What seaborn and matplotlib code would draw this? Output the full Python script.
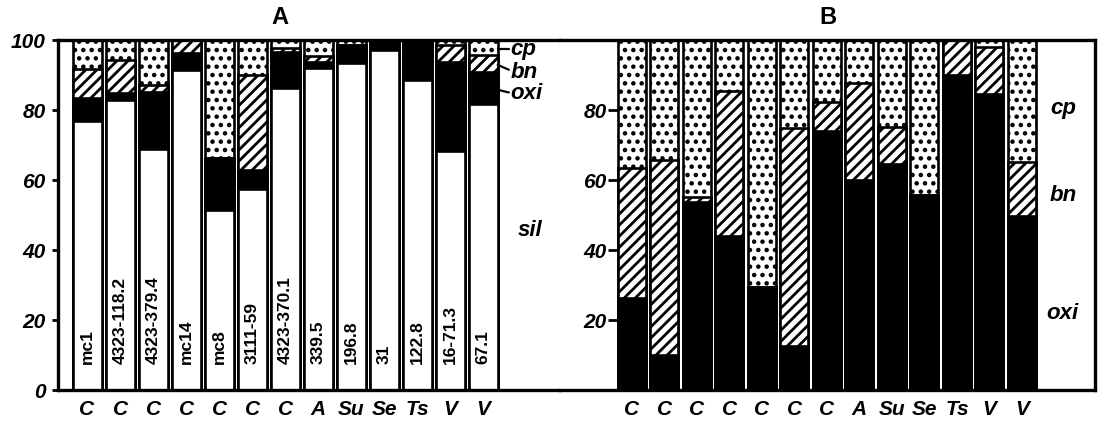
import numpy as np
import pandas as pd
import matplotlib
matplotlib.use("Agg")
import matplotlib.pyplot as plt
from matplotlib import font_manager
import seaborn as sns

# ---------------- data ----------------
groups = ["C", "C", "C", "C", "C", "C", "C", "A", "Su", "Se", "Ts", "V", "V"]
samples = ["mc1", "4323-118.2", "4323-379.4", "mc14", "mc8", "3111-59",
           "4323-370.1", "339.5", "196.8", "31", "122.8", "16-71.3", "67.1"]

# Panel A: percentages of sil, oxi, bn, cp
a_sil = [77.0, 82.8, 68.8, 91.4, 51.5, 57.3, 86.2, 92.0, 93.4, 97.1, 88.5, 68.3, 81.7]
a_oxi = [6.4, 2.1, 16.3, 4.8, 14.7, 5.5, 10.4, 1.7, 5.2, 2.4, 11.5, 25.4, 9.1]
a_bn = [8.3, 9.4, 2.0, 3.8, 0.0, 27.2, 1.1, 1.7, 0.0, 0.0, 0.0, 4.9, 4.9]
a_cp = [8.3, 5.7, 12.9, 0.0, 33.8, 10.0, 2.3, 4.6, 1.4, 0.5, 0.0, 1.4, 4.3]

# Panel B: percentages of oxi, bn, cp (non-silicate part)
b_oxi = [26.4, 10.0, 53.8, 44.1, 29.3, 12.6, 73.9, 60.0, 64.7, 55.8, 90.1, 84.7, 49.7]
b_bn = [37.1, 55.8, 1.4, 41.4, 0.0, 62.4, 8.4, 27.7, 10.4, 0.0, 9.9, 13.4, 15.5]
b_cp = [36.5, 34.2, 44.8, 14.5, 70.7, 25.0, 17.7, 12.3, 24.9, 44.2, 0.0, 1.9, 34.8]

a_ticks = [0, 20, 40, 60, 80, 100]
b_ticks = [20, 40, 60, 80]

# ---------------- style ----------------
sns.set_style("white")
names = {f.name for f in font_manager.fontManager.ttflist}
narrow = "Liberation Sans Narrow" if "Liberation Sans Narrow" in names else "Liberation Sans"
plt.rcParams["font.family"] = ["Liberation Sans", "DejaVu Sans"]
plt.rcParams["hatch.linewidth"] = 2.0
plt.rcParams["hatch.color"] = "black"
for k in ("text.color", "axes.labelcolor", "xtick.color", "ytick.color", "axes.edgecolor"):
    plt.rcParams[k] = "black"

fig = plt.figure(figsize=(11.03, 4.25), dpi=100)
axA = fig.add_axes([58 / 1103, 35 / 425, (560 - 58) / 1103, 350 / 425])
axB = fig.add_axes([560 / 1103, 35 / 425, (1095 - 560) / 1103, 350 / 425])

styles = {
    "sil": dict(color="white", hatch=None),
    "oxi": dict(color="black", hatch=None),
    "bn": dict(color="white", hatch="///"),
    "cp": dict(color="white", hatch=".."),
}


def stacked(ax, layers, keys, width):
    cum = np.cumsum(np.array(layers, dtype=float), axis=0)
    for k in reversed(range(len(layers))):
        df = pd.DataFrame({"sample": samples, "top": cum[k]})
        st = styles[keys[k]]
        kw = dict(data=df, x="sample", y="top", order=samples, ax=ax,
                  width=width, color=st["color"], edgecolor="black",
                  linewidth=1.9, saturation=1, errorbar=None)
        if st["hatch"]:
            kw["hatch"] = st["hatch"]
        sns.barplot(**kw)


stacked(axA, [a_sil, a_oxi, a_bn, a_cp], ["sil", "oxi", "bn", "cp"], 0.88)
stacked(axB, [b_oxi, b_bn, b_cp], ["oxi", "bn", "cp"], 0.86)

tick_font = dict(family=[narrow, "DejaVu Sans"], style="italic", weight="bold",
                 color="black")

for ax in (axA, axB):
    ax.set_ylim(0, 100)
    ax.set_xlabel("")
    ax.set_ylabel("")
    ax.set_xticks(range(len(groups)))
    ax.set_xticklabels(groups, fontsize=15, **tick_font)
    ax.tick_params(axis="x", length=0, pad=7)
    for s in ax.spines.values():
        s.set_linewidth(2.4)
        s.set_color("black")

# Panel A axes
axA.set_xlim(-0.88, 14.33)
axA.spines["right"].set_visible(False)
axA.set_yticks(a_ticks)
axA.set_yticklabels([str(t) for t in a_ticks], fontsize=15, **tick_font)
axA.tick_params(axis="y", direction="out", length=4, width=2, pad=5, left=True)

for i, s in enumerate(samples):
    axA.text(i, 7.4, s, rotation=90, ha="center", va="bottom", color="black",
             fontsize=12.5, fontweight="bold", family=["Liberation Sans", "DejaVu Sans"])

lab_font = dict(family=[narrow, "DejaVu Sans"], style="italic", weight="bold",
                fontsize=16, color="black")
axA.text(13.05, 45.5, "sil", ha="left", va="center", **lab_font)
axA.text(12.82, 97.2, "cp", ha="left", va="center", **lab_font)
axA.text(12.82, 90.8, "bn", ha="left", va="center", **lab_font)
axA.text(12.82, 84.8, "oxi", ha="left", va="center", **lab_font)
axA.plot([12.44, 12.78], [97.3, 97.3], color="black", lw=1.6, clip_on=False)
axA.plot([12.44, 12.78], [92.9, 91.5], color="black", lw=1.6, clip_on=False)
axA.plot([12.44, 12.78], [85.8, 85.0], color="black", lw=1.6, clip_on=False)

# Panel B axes
axB.set_xlim(-2.215, 14.25)
axB.spines["left"].set_position(("data", -0.44))
axB.spines["left"].set_visible(False)
axB.set_yticks(b_ticks)
axB.set_yticklabels([str(t) for t in b_ticks], fontsize=15, **tick_font)
axB.tick_params(axis="y", direction="out", length=7, width=2, pad=1, left=True)

axB.text(13.26, 80.5, "cp", ha="center", va="center", **lab_font)
axB.text(13.26, 55.6, "bn", ha="center", va="center", **lab_font)
axB.text(13.26, 21.8, "oxi", ha="center", va="center", **lab_font)

fig.text(280 / 1103, 1 - 18 / 425, "A", ha="center", va="center",
         fontsize=17, fontweight="bold", color="black")
fig.text(828 / 1103, 1 - 18 / 425, "B", ha="center", va="center",
         fontsize=17, fontweight="bold", color="black")

fig.savefig("out.png", dpi=100)
